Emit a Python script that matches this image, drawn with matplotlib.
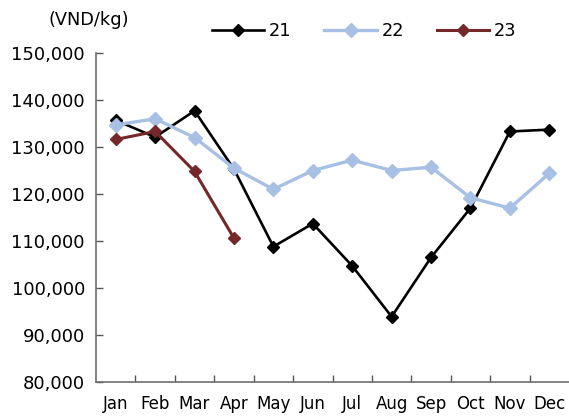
import matplotlib
matplotlib.use("Agg")
import matplotlib.pyplot as plt
from matplotlib.ticker import FuncFormatter, FixedLocator

plt.rcParams['font.family'] = ['DejaVu Sans']

months = ["Jan", "Feb", "Mar", "Apr", "May", "Jun",
          "Jul", "Aug", "Sep", "Oct", "Nov", "Dec"]
price_21 = [135700, 132100, 137700, 125300, 108800, 113700,
            104700, 93900, 106500, 117000, 133300, 133700]
price_22 = [134700, 136000, 132000, 125500, 121000, 125000,
            127200, 125000, 125700, 119200, 117000, 124400]
price_23 = [131600, 133300, 124800, 110600]
series_names = ["21", "22", "23"]
unit_label = "(VND/kg)"

fig = plt.figure(figsize=(5.69, 4.17), dpi=100)
ax = fig.add_axes([96 / 569, 1 - 382 / 417, 473 / 569, (382 - 53) / 417])

x = list(range(len(months)))
styles = [
    dict(color="#000000", lw=1.9, ms=6.0),
    dict(color="#A7C0E4", lw=2.4, ms=7.0),
    dict(color="#74282A", lw=2.2, ms=6.5),
]
handles = []
for name, vals, st in zip(series_names, [price_21, price_22, price_23], styles):
    h, = ax.plot(x[:len(vals)], vals, color=st["color"], lw=st["lw"],
                 marker="D", ms=st["ms"], mfc=st["color"], mec=st["color"],
                 label=name)
    handles.append(h)

ax.set_xlim(-0.5, len(months) - 0.5)
ax.set_ylim(80000, 150000)
ax.set_yticks(range(80000, 150001, 10000))
ax.yaxis.set_major_formatter(FuncFormatter(lambda v, p: f"{int(v):,}"))

ax.set_xticks(x)
ax.set_xticklabels(months)
ax.xaxis.set_minor_locator(FixedLocator([i + 0.5 for i in range(len(months) - 1)]))
ax.tick_params(axis="x", which="major", length=0, pad=9.5, labelsize=12)
ax.tick_params(axis="x", which="minor", direction="in", length=5,
               color="#555555", width=1)
ax.tick_params(axis="y", direction="in", length=5, color="#555555",
               width=1, pad=8, labelsize=13)

for side in ("top", "right"):
    ax.spines[side].set_visible(False)
for side in ("left", "bottom"):
    ax.spines[side].set_color("#6E6E6E")
    ax.spines[side].set_linewidth(1.2)

fig.text(89 / 569, 1 - 20 / 417, unit_label, ha="center", va="center",
         fontsize=12.8)
fig.legend(handles=handles, labels=series_names, loc="center",
           bbox_to_anchor=(364 / 569, 1 - 31 / 417), ncol=3, frameon=False,
           fontsize=12.8, handlelength=2.95, handletextpad=0.25,
           columnspacing=1.85)

fig.savefig("out.png", dpi=100)
